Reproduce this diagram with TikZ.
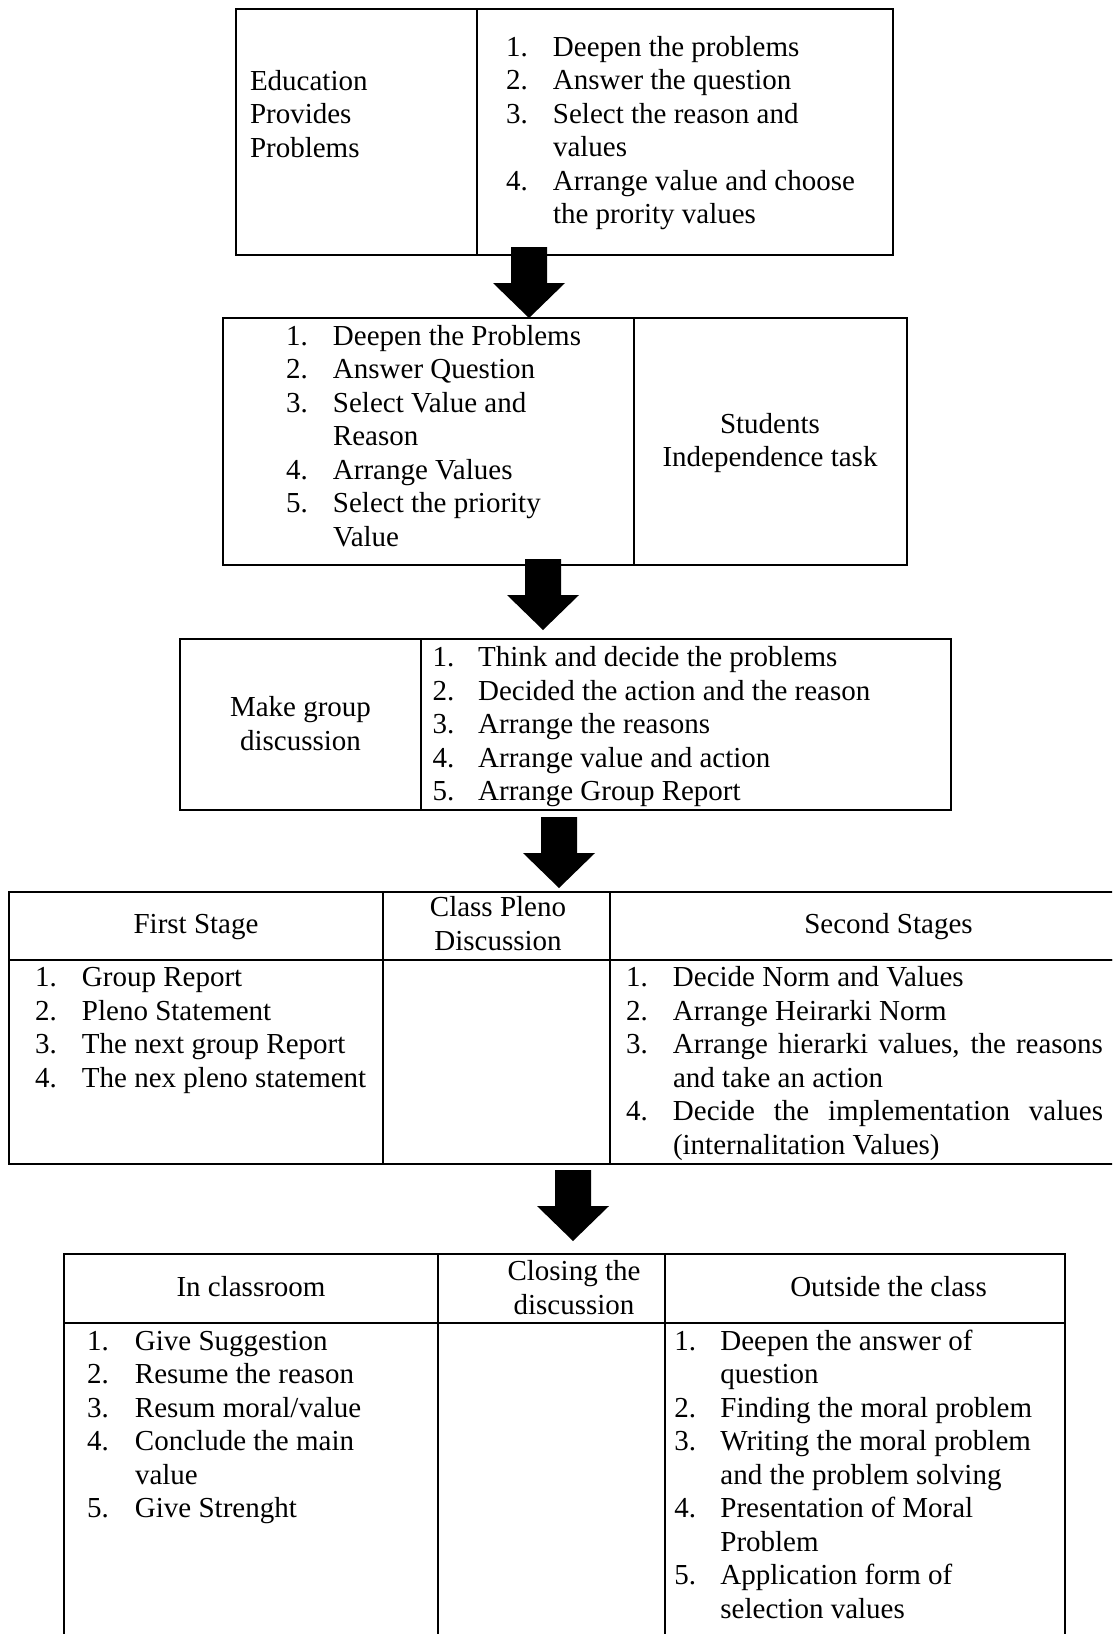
\documentclass[tikz,border=0pt]{standalone}
\usepackage{fontspec}
\setmainfont{Liberation Serif}
\usepackage{array}
\newcommand\blockarrow[1]{\fill[black] (#1) ++(-18,0) -- ++(36,0) -- ++(0,36) -- ++(18,0) -- ++(-36,35) -- ++(-36,-35) -- ++(18,0) -- cycle;}
\begin{document}
\begin{tikzpicture}[x=1pt,y=-1pt,
  cell/.style={draw=black, line width=2pt, anchor=north west, inner sep=0pt, outer sep=0pt},
  txt/.style={inner sep=0pt, outer sep=0pt, font=\fontsize{29}{33.5}\selectfont},
  lst/.style={txt, anchor=base west},
  ctr/.style={txt, anchor=base},
]
\useasboundingbox (0,0) rectangle (1112,1634);
\clip (0,0) rectangle (1112,1634);

% ---------- Box 1
\node[cell, minimum width=241, minimum height=245.7] (b1l) at (236,9.3) {};
\node[cell, minimum width=416, minimum height=245.7] (b1r) at (477,9.3) {};
\node[lst] (t1l) at (250,90) {\begin{tabular}[t]{@{}l@{}}Education\\Provides\\Problems\end{tabular}};
\node[lst] (t1r) at (506,56) {\begin{tabular}[t]{@{}p{47pt}@{}l@{}}
1.&Deepen the problems\\
2.&Answer the question\\
3.&Select the reason and\\
&values\\
4.&Arrange value and choose\\
&the prority values\end{tabular}};

% ---------- Box 2
\node[cell, minimum width=411, minimum height=246.5] (b2l) at (223,318) {};
\node[cell, minimum width=273, minimum height=246.5] (b2r) at (634,318) {};
\node[lst] (t2l) at (286,345) {\begin{tabular}[t]{@{}p{47pt}@{}l@{}}
1.&Deepen the Problems\\
2.&Answer Question\\
3.&Select Value and\\
&Reason\\
4.&Arrange Values\\
5.&Select the priority\\
&Value\end{tabular}};
\node[ctr] (t2r) at (770,433.3) {\begin{tabular}[t]{@{}c@{}}Students\\Independence task\end{tabular}};

% ---------- Box 3
\node[cell, minimum width=241, minimum height=170.5] (b3l) at (180,639) {};
\node[cell, minimum width=529.5, minimum height=170.5] (b3r) at (421,639) {};
\node[ctr] (t3l) at (300.5,716.7) {\begin{tabular}[t]{@{}c@{}}Make group\\discussion\end{tabular}};
\node[lst] (t3r) at (432.7,666.5) {\begin{tabular}[t]{@{}p{45.5pt}@{}l@{}}
1.&Think and decide the problems\\
2.&Decided the action and the reason\\
3.&Arrange the reasons\\
4.&Arrange value and action\\
5.&Arrange Group Report\end{tabular}};

% ---------- Box 4
\node[cell, minimum width=374.5, minimum height=68] (b4h1) at (8.5,892) {};
\node[cell, minimum width=226.5, minimum height=68] (b4h2) at (383,892) {};
\node[cell, minimum width=557.5, minimum height=68] (b4h3) at (609.5,892) {};
\node[cell, minimum width=374.5, minimum height=203.5] (b4b1) at (8.5,960) {};
\node[cell, minimum width=226.5, minimum height=203.5] (b4b2) at (383,960) {};
\node[cell, minimum width=557.5, minimum height=203.5] (b4b3) at (609.5,960) {};
\node[ctr] (t4h1) at (196,933.3) {First Stage};
\node[ctr] (t4h2) at (498,916.5) {\begin{tabular}[t]{@{}c@{}}Class Pleno\\Discussion\end{tabular}};
\node[ctr] (t4h3) at (888.5,933.3) {Second Stages};
\node[lst] (t4b1) at (35,986.5) {\begin{tabular}[t]{@{}p{47pt}@{}l@{}}
1.&Group Report\\
2.&Pleno Statement\\
3.&The next group Report\\
4.&The nex pleno statement\end{tabular}};
\node[lst] (t4b3) at (626,986.5) {\begin{tabular}[t]{@{}p{47pt}@{}l@{}}
1.&Decide Norm and Values\\
2.&Arrange Heirarki Norm\\
3.&\makebox[430pt][s]{Arrange hierarki values, the reasons}\\
&and take an action\\
4.&\makebox[430pt][s]{Decide the implementation values}\\
&(internalitation Values)\end{tabular}};

% ---------- Box 5
\node[cell, minimum width=373.5, minimum height=68.2] (b5h1) at (64,1254.3) {};
\node[cell, minimum width=227.5, minimum height=68.2] (b5h2) at (437.5,1254.3) {};
\node[cell, minimum width=400, minimum height=68.2] (b5h3) at (665,1254.3) {};
\node[cell, minimum width=373.5, minimum height=400] (b5b1) at (64,1322.5) {};
\node[cell, minimum width=227.5, minimum height=400] (b5b2) at (437.5,1322.5) {};
\node[cell, minimum width=400, minimum height=400] (b5b3) at (665,1322.5) {};
\node[ctr] (t5h1) at (251,1296.7) {In classroom};
\node[ctr] (t5h2) at (574,1280.7) {\begin{tabular}[t]{@{}c@{}}Closing the\\discussion\end{tabular}};
\node[ctr] (t5h3) at (888.5,1296.7) {Outside the class};
\node[lst] (t5b1) at (87,1350) {\begin{tabular}[t]{@{}p{48pt}@{}l@{}}
1.&Give Suggestion\\
2.&Resume the reason\\
3.&Resum moral/value\\
4.&Conclude the main\\
&value\\
5.&Give Strenght\end{tabular}};
\node[lst] (t5b3) at (674.4,1350) {\begin{tabular}[t]{@{}p{46pt}@{}l@{}}
1.&Deepen the answer of\\
&question\\
2.&Finding the moral problem\\
3.&Writing the moral problem\\
&and the problem solving\\
4.&Presentation of Moral\\
&Problem\\
5.&Application form of\\
&selection values\end{tabular}};

% ---------- Block arrows
\coordinate (a1) at (529,247);
\coordinate (a2) at (543,559);
\coordinate (a3) at (559,817);
\coordinate (a4) at (573,1170);
\blockarrow{a1}
\blockarrow{a2}
\blockarrow{a3}
\blockarrow{a4}
\end{tikzpicture}
\end{document}
